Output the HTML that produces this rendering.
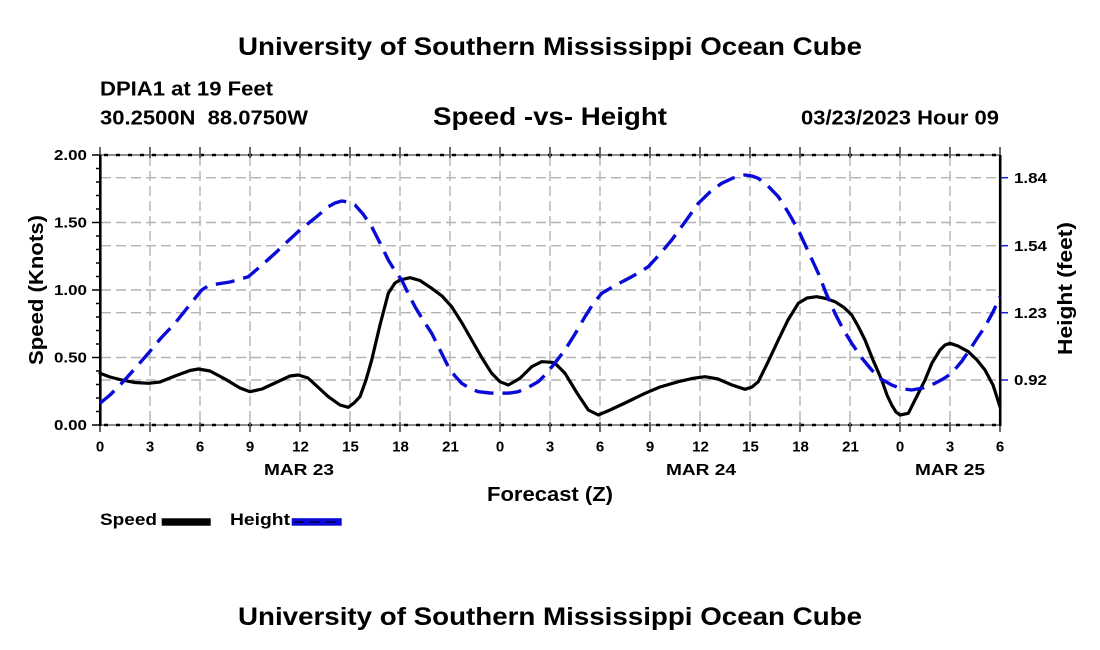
<!DOCTYPE html>
<html><head><meta charset="utf-8"><style>
html,body{margin:0;padding:0;background:#fff;}
svg{display:block;}
text{font-family:"Liberation Sans",Arial,sans-serif;font-weight:bold;fill:#000;}
</style></head><body>
<svg width="1100" height="650" viewBox="0 0 1100 650" xmlns="http://www.w3.org/2000/svg">
<rect width="1100" height="650" fill="#fff"/>
<!-- titles -->
<text x="238" y="55" font-size="25" textLength="624" lengthAdjust="spacingAndGlyphs">University of Southern Mississippi Ocean Cube</text>
<text x="100" y="95.5" font-size="20" textLength="173" lengthAdjust="spacingAndGlyphs">DPIA1 at 19 Feet</text>
<text x="100" y="124.3" font-size="20" textLength="208" lengthAdjust="spacingAndGlyphs">30.2500N&#160;&#160;88.0750W</text>
<text x="433" y="125" font-size="25" textLength="234" lengthAdjust="spacingAndGlyphs">Speed -vs- Height</text>
<text x="801" y="124.3" font-size="20" textLength="198" lengthAdjust="spacingAndGlyphs">03/23/2023 Hour 09</text>

<!-- grid -->
<g stroke="#b4b4b4" stroke-width="1.4" stroke-dasharray="10 5" fill="none">
<line x1="101" y1="177.7" x2="999" y2="177.7"/>
<line x1="101" y1="222.5" x2="999" y2="222.5"/>
<line x1="101" y1="245.7" x2="999" y2="245.7"/>
<line x1="101" y1="290" x2="999" y2="290"/>
<line x1="101" y1="312.7" x2="999" y2="312.7"/>
<line x1="101" y1="357.5" x2="999" y2="357.5"/>
<line x1="101" y1="380" x2="999" y2="380"/>
<line x1="150" y1="156" x2="150" y2="424"/>
<line x1="200" y1="156" x2="200" y2="424"/>
<line x1="250" y1="156" x2="250" y2="424"/>
<line x1="300" y1="156" x2="300" y2="424"/>
<line x1="350" y1="156" x2="350" y2="424"/>
<line x1="400" y1="156" x2="400" y2="424"/>
<line x1="450" y1="156" x2="450" y2="424"/>
<line x1="500" y1="156" x2="500" y2="424"/>
<line x1="550" y1="156" x2="550" y2="424"/>
<line x1="600" y1="156" x2="600" y2="424"/>
<line x1="650" y1="156" x2="650" y2="424"/>
<line x1="700" y1="156" x2="700" y2="424"/>
<line x1="750" y1="156" x2="750" y2="424"/>
<line x1="800" y1="156" x2="800" y2="424"/>
<line x1="850" y1="156" x2="850" y2="424"/>
<line x1="900" y1="156" x2="900" y2="424"/>
<line x1="950" y1="156" x2="950" y2="424"/>
</g>

<!-- top/bottom axis lines -->
<g fill="none">
<line x1="100" y1="155" x2="1000" y2="155" stroke="#6a6a6a" stroke-width="1.6"/>
<line x1="100" y1="425" x2="1000" y2="425" stroke="#6a6a6a" stroke-width="1.6"/>
<line x1="104" y1="155" x2="1000" y2="155" stroke="#000" stroke-width="2.4" stroke-dasharray="4 8"/>
<line x1="104" y1="425" x2="1000" y2="425" stroke="#000" stroke-width="2.4" stroke-dasharray="4 8"/>
</g>
<!-- major x ticks -->
<g stroke="#5a5a5a" stroke-width="1.8">
<line x1="100" y1="147" x2="100" y2="158"/><line x1="100" y1="422" x2="100" y2="432"/>
<line x1="150" y1="147" x2="150" y2="158"/><line x1="150" y1="422" x2="150" y2="432"/>
<line x1="200" y1="147" x2="200" y2="158"/><line x1="200" y1="422" x2="200" y2="432"/>
<line x1="250" y1="147" x2="250" y2="158"/><line x1="250" y1="422" x2="250" y2="432"/>
<line x1="300" y1="147" x2="300" y2="158"/><line x1="300" y1="422" x2="300" y2="432"/>
<line x1="350" y1="147" x2="350" y2="158"/><line x1="350" y1="422" x2="350" y2="432"/>
<line x1="400" y1="147" x2="400" y2="158"/><line x1="400" y1="422" x2="400" y2="432"/>
<line x1="450" y1="147" x2="450" y2="158"/><line x1="450" y1="422" x2="450" y2="432"/>
<line x1="500" y1="147" x2="500" y2="158"/><line x1="500" y1="422" x2="500" y2="432"/>
<line x1="550" y1="147" x2="550" y2="158"/><line x1="550" y1="422" x2="550" y2="432"/>
<line x1="600" y1="147" x2="600" y2="158"/><line x1="600" y1="422" x2="600" y2="432"/>
<line x1="650" y1="147" x2="650" y2="158"/><line x1="650" y1="422" x2="650" y2="432"/>
<line x1="700" y1="147" x2="700" y2="158"/><line x1="700" y1="422" x2="700" y2="432"/>
<line x1="750" y1="147" x2="750" y2="158"/><line x1="750" y1="422" x2="750" y2="432"/>
<line x1="800" y1="147" x2="800" y2="158"/><line x1="800" y1="422" x2="800" y2="432"/>
<line x1="850" y1="147" x2="850" y2="158"/><line x1="850" y1="422" x2="850" y2="432"/>
<line x1="900" y1="147" x2="900" y2="158"/><line x1="900" y1="422" x2="900" y2="432"/>
<line x1="950" y1="147" x2="950" y2="158"/><line x1="950" y1="422" x2="950" y2="432"/>
<line x1="1000" y1="147" x2="1000" y2="158"/><line x1="1000" y1="422" x2="1000" y2="432"/>
</g>

<!-- left axis -->
<line x1="100.3" y1="155" x2="100.3" y2="426" stroke="#000" stroke-width="2.6"/>
<g stroke="#000" stroke-width="1.5">
<line x1="92" y1="155" x2="100" y2="155"/>
<line x1="92" y1="222.5" x2="100" y2="222.5"/>
<line x1="92" y1="290" x2="100" y2="290"/>
<line x1="92" y1="357.5" x2="100" y2="357.5"/>
<line x1="92" y1="425" x2="100" y2="425"/>
<line x1="96" y1="168.5" x2="100" y2="168.5"/><line x1="96" y1="182" x2="100" y2="182"/><line x1="96" y1="195.5" x2="100" y2="195.5"/><line x1="96" y1="209" x2="100" y2="209"/>
<line x1="96" y1="236" x2="100" y2="236"/><line x1="96" y1="249.5" x2="100" y2="249.5"/><line x1="96" y1="263" x2="100" y2="263"/><line x1="96" y1="276.5" x2="100" y2="276.5"/>
<line x1="96" y1="303.5" x2="100" y2="303.5"/><line x1="96" y1="317" x2="100" y2="317"/><line x1="96" y1="330.5" x2="100" y2="330.5"/><line x1="96" y1="344" x2="100" y2="344"/>
<line x1="96" y1="371" x2="100" y2="371"/><line x1="96" y1="384.5" x2="100" y2="384.5"/><line x1="96" y1="398" x2="100" y2="398"/><line x1="96" y1="411.5" x2="100" y2="411.5"/>
</g>
<g font-size="14.5" text-anchor="end">
<text x="87" y="160.2" textLength="33" lengthAdjust="spacingAndGlyphs">2.00</text>
<text x="87" y="227.7" textLength="33" lengthAdjust="spacingAndGlyphs">1.50</text>
<text x="87" y="295.2" textLength="33" lengthAdjust="spacingAndGlyphs">1.00</text>
<text x="87" y="362.7" textLength="33" lengthAdjust="spacingAndGlyphs">0.50</text>
<text x="87" y="430.2" textLength="33" lengthAdjust="spacingAndGlyphs">0.00</text>
</g>

<!-- right axis -->
<line x1="1000.2" y1="155" x2="1000.2" y2="426" stroke="#000" stroke-width="2.6"/>
<g stroke="#1a1ad0" stroke-width="1.5">
<line x1="1001" y1="177.7" x2="1008" y2="177.7"/>
<line x1="1001" y1="245.7" x2="1008" y2="245.7"/>
<line x1="1001" y1="312.7" x2="1008" y2="312.7"/>
<line x1="1001" y1="380" x2="1008" y2="380"/>
</g>
<g font-size="14.5">
<text x="1014" y="182.9" textLength="33" lengthAdjust="spacingAndGlyphs">1.84</text>
<text x="1014" y="250.9" textLength="33" lengthAdjust="spacingAndGlyphs">1.54</text>
<text x="1014" y="317.9" textLength="33" lengthAdjust="spacingAndGlyphs">1.23</text>
<text x="1014" y="385.2" textLength="33" lengthAdjust="spacingAndGlyphs">0.92</text>
</g>

<!-- x tick labels -->
<g font-size="15" text-anchor="middle">
<text x="100" y="451.7">0</text><text x="150" y="451.7">3</text><text x="200" y="451.7">6</text>
<text x="250" y="451.7">9</text><text x="300.5" y="451.7">12</text><text x="350.5" y="451.7">15</text>
<text x="400.5" y="451.7">18</text><text x="450.5" y="451.7">21</text><text x="500" y="451.7">0</text>
<text x="550" y="451.7">3</text><text x="600" y="451.7">6</text><text x="650" y="451.7">9</text>
<text x="700.5" y="451.7">12</text><text x="750.5" y="451.7">15</text><text x="800.5" y="451.7">18</text>
<text x="850.5" y="451.7">21</text><text x="900" y="451.7">0</text><text x="950" y="451.7">3</text>
<text x="1000" y="451.7">6</text>
</g>
<g font-size="16">
<text x="264" y="475" textLength="70" lengthAdjust="spacingAndGlyphs">MAR 23</text>
<text x="666" y="475" textLength="70" lengthAdjust="spacingAndGlyphs">MAR 24</text>
<text x="915" y="475" textLength="70" lengthAdjust="spacingAndGlyphs">MAR 25</text>
</g>
<text x="487" y="501" font-size="20" textLength="126" lengthAdjust="spacingAndGlyphs">Forecast (Z)</text>

<!-- axis titles -->
<text transform="translate(43,290) rotate(-90)" font-size="20" text-anchor="middle" textLength="150" lengthAdjust="spacingAndGlyphs">Speed (Knots)</text>
<text transform="translate(1072,288.5) rotate(-90)" font-size="20" text-anchor="middle" textLength="133" lengthAdjust="spacingAndGlyphs">Height (feet)</text>

<!-- series -->
<polyline fill="none" stroke="#000" stroke-width="3.2" stroke-linejoin="round" stroke-linecap="round" points="100,373.3 110,377 121.7,380 135,382.5 148.3,383.3 160,382 175,376 190,370.5 198.3,369 210,371 225,379 240,388 250,391.7 262,389 275,383 290,376 298.3,375 308,378 320,389 328.3,396.7 340,405 348.3,407.3 354,403 360,396.7 366,380 371.7,360 380,325 388.3,293.3 395,283 400,280 410,277.7 420,280.5 431.7,288.3 442,296 451.7,306.7 462,323 471.7,340 482,358 491.7,373.3 500,381.7 508.3,385 520,378.3 531.7,366.7 541.7,361.7 551.7,362.3 555,363.3 565,373.3 577,393 588.3,410 598.3,415 610,410 625,403 645,393.3 660,387 678.3,381.7 692,378.5 705,376.7 718,379 732,385 745,389.3 752,387 758.3,381.7 768,362 778.3,340 788,320 798.3,303.3 807,298 816.7,296.7 826,298.5 835,301.7 844,307.5 851.7,315 858,326 865,340 873,360 881.7,380 887,395 891.7,405 896,412 900,415 908.3,413.3 916,398 925,380 932,363 940,350 945,345 950,343.3 958,346 968.3,351.7 977,360 985,370 993,385 1000,406.7"/>
<polyline fill="none" stroke="#0a0ad8" stroke-width="3.4" stroke-dasharray="19 9" stroke-linejoin="round" points="100,403.3 110,395 121.7,383.3 135,368.5 148.3,353.3 161,338 175,323.3 188,307 201.7,290 208,286 215,284.3 230,282 248.3,276.7 262,265 275,253.3 288,241 300,230 315,218 328.3,206.7 335,203 341.7,201 348,202 355,205 363,214 371.7,226.7 380,243 388.3,260 395,271 401.7,280 408,293 415,306.7 423,320 431.7,333.3 440,350 448.3,366.7 455,376 461.7,383.3 470,388.5 478.3,391.7 490,393 500,393.3 510,393 518.3,391.7 528,387.5 538.3,381.7 546,374 553.3,365 565,350 575,334 585,316.7 593,304 601.7,293.3 616,285 631.7,276.7 640,272 648.3,266.7 660,254 671.7,240 685,222 698.3,203.3 710,192 721.7,183.3 733,178 745,175 752,176 758.3,178.3 768,186 778.3,196.7 788,212 798.3,230 808,251 818.3,273.3 826,293 835,313.3 843,329 851.7,343.3 861,357 871.7,370 881,379 891.7,385 901,388.5 911.7,390 923,388 935,383.3 943,379 951.7,373.3 962,361 971.7,346.7 978,337 985,326.7 993,312 1000,296.7"/>

<!-- legend -->
<text x="100" y="525" font-size="17" textLength="57" lengthAdjust="spacingAndGlyphs">Speed</text>
<rect x="161.7" y="518.3" width="49" height="7.4" fill="#000"/>
<text x="230" y="525" font-size="17" textLength="60" lengthAdjust="spacingAndGlyphs">Height</text>
<rect x="291.7" y="518.2" width="50" height="7.5" fill="#0a0ad8"/>
<line x1="294" y1="522" x2="341" y2="522" stroke="#00006a" stroke-width="2" stroke-dasharray="10 6"/>

<!-- bottom title -->
<text x="238" y="625" font-size="25" textLength="624" lengthAdjust="spacingAndGlyphs">University of Southern Mississippi Ocean Cube</text>
</svg>
</body></html>
